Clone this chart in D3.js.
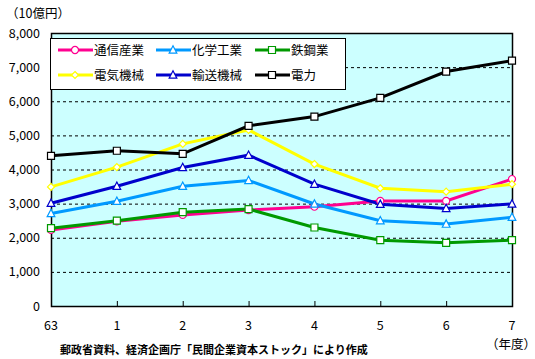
<!DOCTYPE html>
<html><head><meta charset="utf-8">
<script src="https://cdn.jsdelivr.net/npm/d3@7"></script>
<style>
html,body{margin:0;padding:0;background:#fff;}
text{font-family:"Noto Sans CJK JP","DejaVu Sans",sans-serif;fill:#000;}
</style></head><body>
<svg id="c" width="535" height="359"></svg>
<script>
const categories = ["63","1","2","3","4","5","6","7"];
const yTicks = [0,1000,2000,3000,4000,5000,6000,7000,8000];
const tsushin = [2230,2480,2670,2810,2910,3080,3080,3720];
const kagaku  = [2710,3070,3510,3680,2990,2500,2400,2600];
const tekko   = [2280,2500,2750,2840,2300,1930,1850,1930];
const denki   = [3490,4070,4750,5160,4160,3450,3350,3570];
const yuso    = [3010,3510,4060,4420,3570,2980,2860,2990];
const denryoku= [4400,4550,4460,5280,5550,6100,6870,7190];
const seriesNames = ["通信産業","化学工業","鉄鋼業","電気機械","輸送機械","電力"];
const seriesData = [tsushin,kagaku,tekko,denki,yuso,denryoku];
const colors = ["#ff0090","#0099ff","#009900","#ffff00","#0000cc","#000000"];
const markers = ["circle","triangle","square","diamond","triangle","square"];

const svg = d3.select("#c");
const L=51, R=512, T=33, B=306;
const x = d3.scalePoint().domain(categories).range([L,R]);
const y = d3.scaleLinear().domain([0,8000]).range([B,T]);

svg.append("rect").attr("x",L).attr("y",T).attr("width",R-L).attr("height",B-T)
  .attr("fill","#ccffff");

// gridlines
svg.append("g").selectAll("line").data(yTicks.filter(d=>d>0&&d<8000)).join("line")
  .attr("x1",L).attr("x2",R).attr("y1",d=>y(d)+0.5).attr("y2",d=>y(d)+0.5)
  .attr("stroke","#000").attr("stroke-width",1).attr("stroke-dasharray","3,3");

// x ticks (inward)
svg.append("g").selectAll("line").data(categories.slice(1,-1)).join("line")
  .attr("x1",d=>x(d)+0.5).attr("x2",d=>x(d)+0.5).attr("y1",B).attr("y2",B-5)
  .attr("stroke","#000");

svg.append("rect").attr("x",L+0.5).attr("y",T+0.5).attr("width",R-L).attr("height",B-T)
  .attr("fill","none").attr("stroke","#000").attr("stroke-width",1.5);

// y labels
svg.append("g").selectAll("text").data(yTicks).join("text")
  .attr("x",40).attr("y",d=>y(d)).attr("dy","0.36em").attr("text-anchor","end")
  .attr("font-size",12.5).text(d=>d3.format(",")(d));
// x labels
svg.append("g").selectAll("text").data(categories).join("text")
  .attr("x",d=>x(d)).attr("y",325).attr("dy","0.36em").attr("text-anchor","middle")
  .attr("font-size",12.5).text(d=>d);

svg.append("text").attr("x",12).attr("y",13).attr("dy","0.36em").attr("font-size",12.5).text("（10億円）").attr("dx",-6);
svg.append("text").attr("x",492).attr("y",344).attr("dy","0.36em").attr("font-size",12.5).text("（年度）").attr("dx",-6);
svg.append("text").attr("x",60).attr("y",350).attr("dy","0.36em").attr("font-size",11).attr("font-weight","bold")
  .text("郵政省資料、経済企画庁「民間企業資本ストック」により作成");

function markerPath(type, s){
  if(type==="circle") return d3.symbol(d3.symbolCircle, s*s*0.8)();
  if(type==="square") return `M${-s/2},${-s/2}h${s}v${s}h${-s}Z`;
  if(type==="diamond") return `M0,${-s/2}L${s/2},0L0,${s/2}L${-s/2},0Z`;
  if(type==="triangle") return `M0,${-s*0.6}L${s*0.55},${s*0.45}L${-s*0.55},${s*0.45}Z`;
}

const line = d3.line().x((d,i)=>x(categories[i])).y(d=>y(d));
seriesData.forEach((data,k)=>{
  svg.append("path").attr("d",line(data)).attr("fill","none")
    .attr("stroke",colors[k]).attr("stroke-width",3);
});
seriesData.forEach((data,k)=>{
  svg.append("g").selectAll("path").data(data).join("path")
    .attr("transform",(d,i)=>`translate(${x(categories[i])},${y(d)})`)
    .attr("d",markerPath(markers[k],7))
    .attr("fill","#fff").attr("stroke",colors[k]).attr("stroke-width",1.2);
});

// legend
const lg = svg.append("g");
lg.append("rect").attr("x",50.5).attr("y",38.5).attr("width",295).attr("height",51)
  .attr("fill","#fff").attr("stroke","#000");
const colX=[58,156,255], rowY=[50,75];
seriesNames.forEach((n,k)=>{
  const cx=colX[k%3], cy=rowY[Math.floor(k/3)];
  lg.append("line").attr("x1",cx).attr("x2",cx+35).attr("y1",cy).attr("y2",cy)
    .attr("stroke",colors[k]).attr("stroke-width",3);
  lg.append("path").attr("transform",`translate(${cx+17},${cy})`).attr("d",markerPath(markers[k],7))
    .attr("fill","#fff").attr("stroke",colors[k]).attr("stroke-width",1.2);
  lg.append("text").attr("x",cx+36).attr("y",cy).attr("dy","0.36em").attr("font-size",12.5).text(n);
});
</script></body></html>
